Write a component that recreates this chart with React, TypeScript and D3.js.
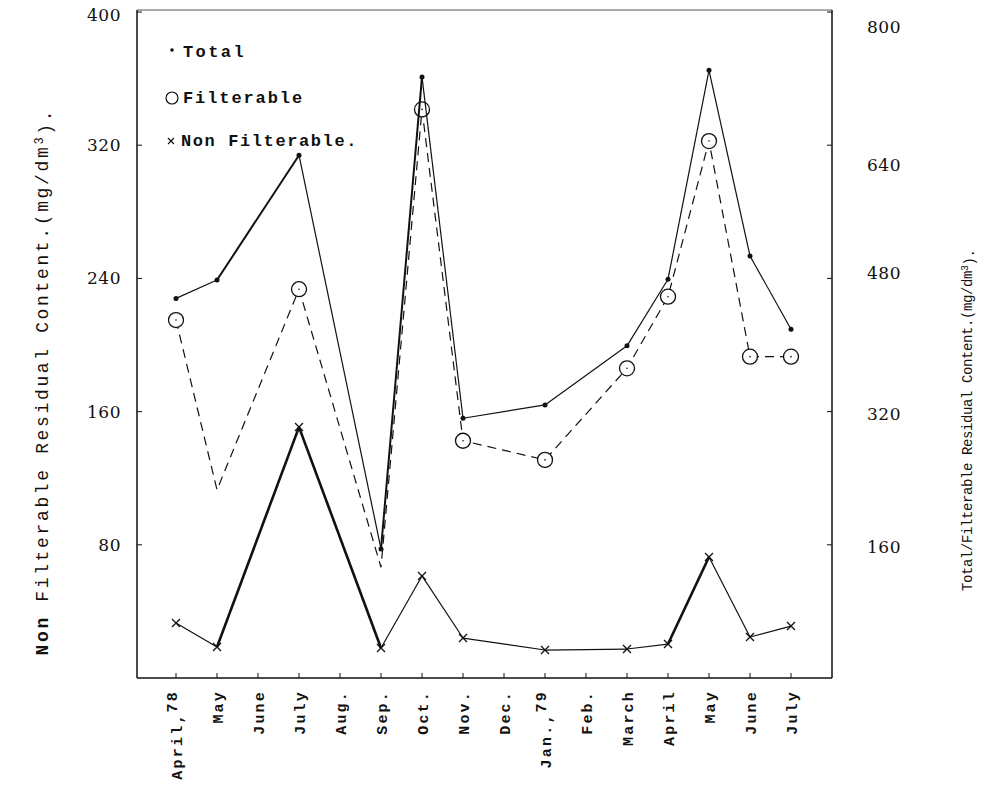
import React from "react";
import * as d3 from "d3";

const monthNames = ["April,", "May", "June", "July", "Aug.", "Sep.", "Oct.", "Nov.", "Dec.", "Jan.,", "Feb.", "March", "April", "May", "June", "July"];
const monthYears = ["78", "", "", "", "", "", "", "", "", "79", "", "", "", "", "", ""];

// month index of each sample
const sampleMonths = [0, 1, 3, 5, 6, 7, 9, 11, 12, 13, 14, 15];
// right axis (mg/dm3)
const totalValues = [456, 478, 628, 155, 722, 312, 328, 399, 479, 730, 507, 419];
const filterableValues = [430, 226, 467, 133, 683, 285, 262, 372, 458, 645, 386, 386];
const filterableMarked = [true, false, true, false, true, true, true, true, true, true, true, true];
// left axis (mg/dm3)
const nonFilterableValues = [33, 18.6, 150.7, 18, 61.3, 24, 16.8, 17.4, 20.4, 72.7, 24.6, 31.2];

const leftTicks = [80, 160, 240, 320, 400];
const leftTickLabels = ["80", "160", "240", "320", "400"];
const rightTicks = [160, 320, 480, 640, 800];
const rightTickLabels = ["160", "320", "480", "640", "800"];

// thicker segments (index of segment start)
const totalThick = [1, 3];
const nonThick = [1, 2, 8];

export default function App() {
  const x = d3.scaleLinear().domain([-1, 16]).range([135, 832]);
  const yL = d3.scaleLinear().domain([0, 400]).range([678, 12]);
  const yR = d3.scaleLinear().domain([0, 800]).range([678, 12]);
  const left = 137, right = 832, top = 10, bottom = 678;

  const tot = sampleMonths.map((m, i) => [x(m), yR(totalValues[i])] as [number, number]);
  const fil = sampleMonths.map((m, i) => [x(m), yR(filterableValues[i])] as [number, number]);
  const non = sampleMonths.map((m, i) => [x(m), yL(nonFilterableValues[i])] as [number, number]);
  const line = d3.line();
  const mono = "'Liberation Mono', 'DejaVu Sans Mono', monospace";
  const hand = "'DejaVu Serif', 'Liberation Serif', serif";

  return (
    <svg width={992} height={785} style={{ position: "absolute", left: 0, top: 0, background: "#fff" }}>
      <rect x={0} y={0} width={992} height={785} fill="#fff" />
      {/* frame */}
      <line x1={left} y1={top} x2={left} y2={bottom} stroke="#111" strokeWidth={1.5} />
      <line x1={right} y1={top} x2={right} y2={bottom} stroke="#111" strokeWidth={1.5} />
      <line x1={left} y1={top} x2={right} y2={top} stroke="#555" strokeWidth={1} />
      <line x1={left} y1={bottom} x2={right} y2={bottom} stroke="#111" strokeWidth={1.5} />

      {/* left ticks */}
      {leftTicks.map((t, i) => (
        <g key={"l" + i}>
          <line x1={left} x2={left + 5} y1={yL(t)} y2={yL(t)} stroke="#111" />
          <text x={121} y={yL(t) + (t === 400 ? 3 : 0)} dy="0.35em" textAnchor="end" fontFamily={hand} fontSize={17} letterSpacing={0.5} fill="#111">{leftTickLabels[i]}</text>
        </g>
      ))}
      {/* right ticks */}
      {rightTicks.map((t, i) => (
        <g key={"r" + i}>
          <line x1={right - 5} x2={right} y1={yR(t)} y2={yR(t)} stroke="#111" />
          <text x={867} y={yR(t) + (t === 800 ? 15 : t === 640 ? 20 : t === 480 ? -5 : 2)} dy="0.35em" textAnchor="start" fontFamily={hand} fontSize={17} letterSpacing={0.5} fill="#111">{rightTickLabels[i]}</text>
        </g>
      ))}
      {/* bottom ticks + labels */}
      {monthNames.map((m, i) => (
        <g key={"m" + i}>
          <line x1={x(i)} x2={x(i)} y1={bottom} y2={bottom - 5} stroke="#111" />
          <text transform={`translate(${x(i) + 6},690) rotate(-90)`} textAnchor="end" fontFamily={mono} fontWeight="bold" fontSize={15} letterSpacing={2.2} fill="#111">
            {monthYears[i] ? (
              <>
                <tspan>{m}</tspan>
                <tspan dy="-0.35em">{monthYears[i]}</tspan>
              </>
            ) : m}
          </text>
        </g>
      ))}

      {/* Filterable dashed */}
      <path d={line(fil) || ""} fill="none" stroke="#111" strokeWidth={1.2} strokeDasharray="9,6" />
      {fil.map((p, i) => filterableMarked[i] ? (
        <g key={"f" + i}>
          <circle cx={p[0]} cy={p[1]} r={7.5} fill="#fff" stroke="#111" strokeWidth={1.3} />
          <circle cx={p[0]} cy={p[1]} r={0.8} fill="#111" />
        </g>
      ) : null)}

      {/* Total solid */}
      {tot.slice(1).map((p, i) => (
        <line key={"ts" + i} x1={tot[i][0]} y1={tot[i][1]} x2={p[0]} y2={p[1]} stroke="#111" strokeWidth={totalThick.includes(i) ? 2 : 1.2} />
      ))}
      {tot.map((p, i) => <circle key={"t" + i} cx={p[0]} cy={p[1]} r={2.5} fill="#111" />)}

      {/* Non filterable */}
      {non.slice(1).map((p, i) => (
        <line key={"ns" + i} x1={non[i][0]} y1={non[i][1]} x2={p[0]} y2={p[1]} stroke="#111" strokeWidth={nonThick.includes(i) ? 2.6 : 1.2} />
      ))}
      {non.map((p, i) => (
        <path key={"n" + i} d={`M${p[0] - 4},${p[1] - 4}L${p[0] + 4},${p[1] + 4}M${p[0] - 4},${p[1] + 4}L${p[0] + 4},${p[1] - 4}`} stroke="#111" strokeWidth={1.3} />
      ))}

      {/* legend */}
      <circle cx={172} cy={50} r={1.8} fill="#111" />
      <text x={183} y={57} fontFamily={mono} fontWeight="bold" fontSize={17} letterSpacing={2.4} fill="#111">Total</text>
      <circle cx={172} cy={98} r={6} fill="#fff" stroke="#111" strokeWidth={1.2} />
      <text x={183} y={103} fontFamily={mono} fontWeight="bold" fontSize={17} letterSpacing={1.9} fill="#111">Filterable</text>
      <path d="M168,138L174,144M168,144L174,138" stroke="#111" strokeWidth={1.2} />
      <text x={181} y={146} fontFamily={mono} fontWeight="bold" fontSize={17} letterSpacing={1.6} fill="#111">Non Filterable.</text>

      {/* axis titles */}
      <text transform="translate(48,383) rotate(-90)" textAnchor="middle" fontFamily={mono} fontSize={18} fill="#111" textLength={545} lengthAdjust="spacing">
        <tspan fontWeight="bold">Non</tspan> Filterable Residual Content.(mg/dm<tspan dy="-0.45em" fontSize={12}>3</tspan><tspan dy="0.45em">).</tspan>
      </text>
      <text transform="translate(972,420) rotate(-90)" textAnchor="middle" fontFamily={mono} fontSize={14} fill="#111" textLength={342} lengthAdjust="spacing">
        Total/Filterable Residual Content.(mg/dm<tspan dy="-0.45em" fontSize={10}>3</tspan><tspan dy="0.45em">).</tspan>
      </text>
    </svg>
  );
}
